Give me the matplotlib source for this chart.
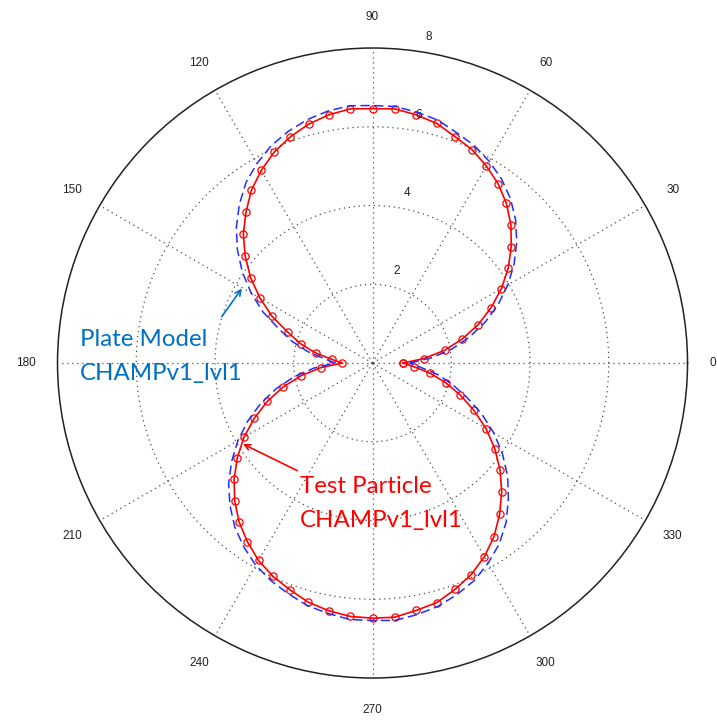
import numpy as np
import matplotlib
matplotlib.use("Agg")
import matplotlib.pyplot as plt

# angles of the samples, degrees
angles_deg = [0, 5, 10, 15, 20, 25, 30, 35, 40, 45, 50, 55, 60, 65, 70, 75, 80, 85,
              90, 95, 100, 105, 110, 115, 120, 125, 130, 135, 140, 145, 150, 155, 160, 165, 170, 175,
              180, 185, 190, 195, 200, 205, 210, 215, 220, 225, 230, 235, 240, 245, 250, 255, 260, 265,
              270, 275, 280, 285, 290, 295, 300, 305, 310, 315, 320, 325, 330, 335, 340, 345, 350, 355]

# Test Particle CHAMPv1_lvl1 (red, markers)
test_particle = [0.78, 1.31, 1.86, 2.36, 2.86, 3.32, 3.78, 4.21, 4.60, 4.97, 5.29, 5.56, 5.78, 5.98, 6.12, 6.30, 6.40, 6.48,
                 6.46, 6.48, 6.40, 6.28, 6.11, 5.91, 5.65, 5.36, 5.00, 4.64, 4.22, 3.78, 3.30, 2.82, 2.29, 1.89, 1.47, 1.03,
                 0.77, 1.31, 1.84, 2.35, 2.84, 3.31, 3.77, 4.19, 4.59, 4.95, 5.27, 5.54, 5.79, 5.98, 6.13, 6.29, 6.39, 6.46,
                 6.48, 6.48, 6.38, 6.30, 6.12, 5.93, 5.68, 5.38, 5.02, 4.64, 4.23, 3.79, 3.33, 2.84, 2.37, 1.92, 1.48, 1.05]

# Plate Model CHAMPv1_lvl1 (blue, dashed)
plate_model = [0.95, 1.50, 2.05, 2.55, 3.05, 3.52, 3.97, 4.39, 4.78, 5.14, 5.45, 5.71, 5.92, 6.10, 6.23, 6.39, 6.47, 6.54,
               6.54, 6.56, 6.50, 6.40, 6.26, 6.09, 5.86, 5.60, 5.26, 4.89, 4.48, 4.04, 3.56, 3.07, 2.53, 2.11, 1.67, 1.22,
               0.95, 1.50, 2.03, 2.54, 3.03, 3.50, 3.95, 4.37, 4.77, 5.12, 5.44, 5.70, 5.93, 6.10, 6.24, 6.38, 6.46, 6.54,
               6.54, 6.56, 6.49, 6.40, 6.26, 6.10, 5.87, 5.61, 5.28, 4.88, 4.48, 4.03, 3.56, 3.06, 2.55, 2.10, 1.68, 1.22]

r_ticks = [2, 4, 6, 8]
theta_ticks = list(range(0, 360, 30))
r_max = 8

fig = plt.figure(figsize=(7.17, 7.21), dpi=100)
ax = fig.add_axes([0.0802, 0.0596, 0.8787, 0.8738], projection="polar")

th = np.deg2rad(angles_deg + [360])
red_r = test_particle + test_particle[:1]
blue_r = plate_model + plate_model[:1]

ax.plot(th, red_r, color="#ff0000", lw=1.2, marker="o", ms=5.2, mfc="none", mec="#ff0000", mew=0.9, zorder=3)
ax.plot(th, blue_r, color="#1f2eff", lw=1.1, linestyle=(0, (6, 3)), zorder=4)

ax.set_ylim(0, r_max)
ax.set_yticks(r_ticks[:-1])
ax.set_yticklabels([])
ax.set_xticks(np.deg2rad(theta_ticks))
ax.set_xticklabels([])
ax.grid(True, color="#4d4d4d", linestyle=(0, (1, 3)), lw=0.9)
ax.spines["polar"].set_color("#222222")
ax.spines["polar"].set_linewidth(1.1)
ax.tick_params(length=0)

for t in theta_ticks:
    # the 0 label sits at the right edge of the picture; pull it in a little so it stays whole
    rr = 1.08 * r_max if t == 0 else 1.1 * r_max
    ax.text(np.deg2rad(t), rr, str(t), ha="center", va="center",
            fontsize=8.5, family="Liberation Sans", color="#222222", clip_on=False)

for r in r_ticks:
    ax.annotate(str(r), xy=(np.deg2rad(82), r + 0.1), xytext=(6.5, 3), textcoords="offset points",
                ha="left", va="bottom", fontsize=8.5, family="Liberation Sans", color="#222222",
                annotation_clip=False)

# callouts
blue_txt = "#0070c0"
fig.text(80 / 717, 1 - 346 / 721, "Plate Model", color=blue_txt, fontsize=17.3, family="Lato", va="baseline")
fig.text(80 / 717, 1 - 380 / 721, "CHAMPv1_lvl1", color=blue_txt, fontsize=17.3, family="Lato", va="baseline")
ax.annotate("", xy=(np.deg2rad(150.3), 3.82), xytext=(221.7, 721 - 316.7), textcoords="figure pixels",
            arrowprops=dict(arrowstyle="->", color=blue_txt, lw=1.2, shrinkA=0, shrinkB=0))

fig.text(300 / 717, 1 - 493 / 721, "Test Particle", color="#ff0000", fontsize=17.3, family="Lato", va="baseline")
fig.text(300 / 717, 1 - 527 / 721, "CHAMPv1_lvl1", color="#ff0000", fontsize=17.3, family="Lato", va="baseline")
ax.annotate("", xy=(np.deg2rad(212), 3.88), xytext=(297.3, 721 - 470.7), textcoords="figure pixels",
            arrowprops=dict(arrowstyle="->", color="#ff0000", lw=1.2, shrinkA=0, shrinkB=0))

fig.savefig("out.png", dpi=100)
